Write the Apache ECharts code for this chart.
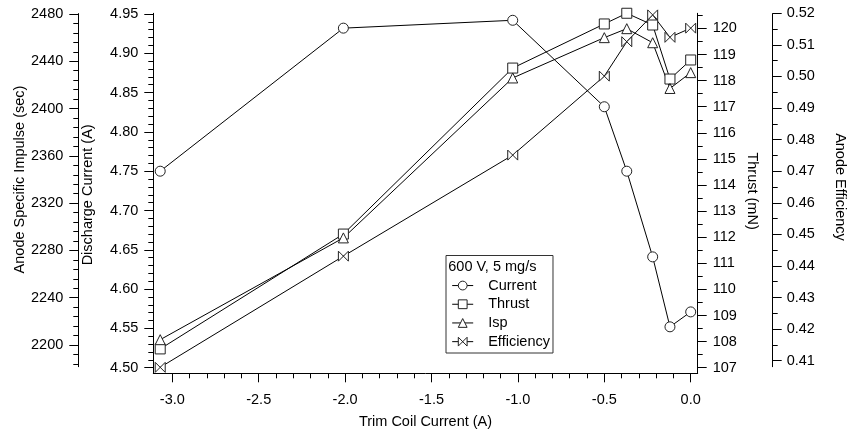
<!DOCTYPE html>
<html><head><meta charset="utf-8">
<script src="https://cdn.jsdelivr.net/npm/echarts@6/dist/echarts.min.js"></script>
<style>html,body{margin:0;padding:0;background:#fff}#c{width:850px;height:431px}</style>
</head><body><div id="c"></div>
<script>
// ---- data ----
const trimCoil   = [-3.07, -2.01, -1.03, -0.50, -0.37, -0.22, -0.12, 0.00];
const current    = [4.750, 4.932, 4.942, 4.832, 4.750, 4.641, 4.552, 4.571];
const thrust     = [107.72, 112.12, 118.48, 120.17, 120.58, 120.13, 118.06, 118.79];
const isp        = [2204.5, 2290.6, 2425.9, 2460.0, 2467.6, 2455.7, 2417.0, 2430.4];
const efficiency = [0.4079, 0.4431, 0.4751, 0.5001, 0.5110, 0.5195, 0.5124, 0.5153];

// ---- tick labels ----
const xTicks       = [-3.0, -2.5, -2.0, -1.5, -1.0, -0.5, 0.0];
const currentTicks = [4.50, 4.55, 4.60, 4.65, 4.70, 4.75, 4.80, 4.85, 4.90, 4.95];
const thrustTicks  = [107, 108, 109, 110, 111, 112, 113, 114, 115, 116, 117, 118, 119, 120];
const ispTicks     = [2200, 2240, 2280, 2320, 2360, 2400, 2440, 2480];
const effTicks     = [0.41, 0.42, 0.43, 0.44, 0.45, 0.46, 0.47, 0.48, 0.49, 0.50, 0.51, 0.52];

const seriesNames = ['Current', 'Thrust', 'Isp', 'Efficiency'];
const legendTitle = '600 V, 5 mg/s';

// ---- layout ----
const W = 850, H = 431;
const FONT = 'Liberation Sans, Arial, sans-serif';
const FS = 14.5;
const BOX = {l: 153.3, r: 697.7, t: 13.3, b: 373.3};
const X_MIN = -3.11, X_MAX = 0.0405;
const xs = (BOX.r - BOX.l) / (X_MAX - X_MIN);
const xPix = v => BOX.l + (v - X_MIN) * xs;
const TICK = 9, MINOR = 5;
const black = '#000';

function grid(top, bottom, left, right) {
  return {left: left, right: W - right, top: top, bottom: H - bottom, containLabel: false, outerBoundsMode: 'none', show: false};
}
function hiddenX(gi) {
  return {type: 'value', gridIndex: gi, min: X_MIN, max: X_MAX, show: false, axisLine: {onZero: false}};
}
const step = a => +(a[1] - a[0]).toFixed(6);

const grids = [
  grid(BOX.t, BOX.b, BOX.l, BOX.r),                                  // 0 box lines
  grid(BOX.t, BOX.b, xPix(xTicks[0]), xPix(xTicks[xTicks.length-1])),// 1 x ticks
  grid(14, 367.7, BOX.l, BOX.r),                                     // 2 current
  grid(28.4, 367.7, BOX.l, BOX.r),                                   // 3 thrust
  grid(14, 345, BOX.l, BOX.r),                                       // 4 isp
  grid(13.3, 360.7, BOX.l, BOX.r),                                   // 5 efficiency
  grid(13.6, 366.7, BOX.l, BOX.r),                                   // 6 outer axis lines
  grid(345, 345 + 16 * (331 / 280), BOX.l, BOX.r),                   // 7 isp extension ticks
  grid(28.4 - 0.5 * (339.3 / 13), 28.4, BOX.l, BOX.r)                // 8 thrust extension tick
];

const lineOnly = {show: true, onZero: false, lineStyle: {color: black, width: 1}};
const noLine = {show: false, onZero: false};
const noTick = {show: false};
const noLabel = {show: false};
const nameStyle = {fontFamily: FONT, fontSize: FS, color: black};
const labelStyle = (fmt, margin) => ({show: true, fontFamily: FONT, fontSize: FS, color: black, margin: margin, formatter: fmt});
const tickStyle = {show: true, length: TICK, lineStyle: {color: black, width: 1}};
const minorStyle = n => ({show: true, splitNumber: n, length: MINOR, lineStyle: {color: black, width: 1}});

const xAxes = [
  {type: 'value', gridIndex: 0, min: X_MIN, max: X_MAX, axisLine: lineOnly, axisTick: noTick, axisLabel: noLabel, splitLine: {show: false},
   name: 'Trim Coil Current (A)', nameLocation: 'middle', nameGap: 41, nameMoveOverlap: false, nameTextStyle: nameStyle},
  {type: 'value', gridIndex: 1, min: xTicks[0], max: xTicks[xTicks.length-1], interval: step(xTicks),
   axisLine: noLine, axisTick: tickStyle, minorTick: minorStyle(5), splitLine: {show: false},
   axisLabel: labelStyle(v => v.toFixed(1), 19)},
  hiddenX(2), hiddenX(3), hiddenX(4), hiddenX(5), hiddenX(6), hiddenX(7), hiddenX(8)
];

const yAxes = [
  // 0,1 box left/right lines
  {type: 'value', gridIndex: 0, position: 'left', min: 0, max: 1, axisLine: lineOnly, axisTick: noTick, axisLabel: noLabel, splitLine: {show: false}},
  {type: 'value', gridIndex: 0, position: 'right', min: 0, max: 1, axisLine: lineOnly, axisTick: noTick, axisLabel: noLabel, splitLine: {show: false}},
  // 2 hidden for x tick grid
  {type: 'value', gridIndex: 1, show: false, min: 0, max: 1, axisLine: {onZero: false}},
  // 3 current
  {type: 'value', gridIndex: 2, position: 'left', min: currentTicks[0], max: currentTicks[currentTicks.length-1], interval: step(currentTicks),
   axisLine: noLine, axisTick: tickStyle, minorTick: minorStyle(5), splitLine: {show: false},
   axisLabel: labelStyle(v => v.toFixed(2), 15),
   name: 'Discharge Current (A)', nameLocation: 'middle', nameGap: 58, nameRotate: 90, nameMoveOverlap: false,
   nameTextStyle: Object.assign({padding: [0, 8, 0, 0]}, nameStyle)},
  // 4 thrust
  {type: 'value', gridIndex: 3, position: 'right', min: thrustTicks[0], max: thrustTicks[thrustTicks.length-1], interval: step(thrustTicks),
   axisLine: noLine, axisTick: tickStyle, minorTick: minorStyle(2), splitLine: {show: false},
   axisLabel: labelStyle(v => String(v), 15),
   name: 'Thrust (mN)', nameLocation: 'middle', nameGap: 47, nameRotate: -90, nameMoveOverlap: false,
   nameTextStyle: Object.assign({padding: [0, 14, 0, 0]}, nameStyle)},
  // 5 isp
  {type: 'value', gridIndex: 4, position: 'left', offset: 75, min: ispTicks[0], max: ispTicks[ispTicks.length-1], interval: step(ispTicks),
   axisLine: noLine, axisTick: tickStyle, minorTick: minorStyle(5), splitLine: {show: false},
   axisLabel: labelStyle(v => String(v), 15),
   name: 'Anode Specific Impulse (sec)', nameLocation: 'middle', nameGap: 51, nameRotate: 90, nameMoveOverlap: false, nameTextStyle: nameStyle},
  // 6 efficiency
  {type: 'value', gridIndex: 5, position: 'right', offset: 75, min: effTicks[0], max: effTicks[effTicks.length-1], interval: step(effTicks),
   axisLine: noLine, axisTick: tickStyle, minorTick: minorStyle(2), splitLine: {show: false},
   axisLabel: labelStyle(v => v.toFixed(2), 14),
   name: 'Anode Efficiency', nameLocation: 'middle', nameGap: 60, nameRotate: -90, nameMoveOverlap: false, nameTextStyle: nameStyle},
  // 7,8 outer axis lines
  {type: 'value', gridIndex: 6, position: 'left', offset: 75, min: 0, max: 1, axisLine: lineOnly, axisTick: noTick, axisLabel: noLabel, splitLine: {show: false}},
  {type: 'value', gridIndex: 6, position: 'right', offset: 75, min: 0, max: 1, axisLine: lineOnly, axisTick: noTick, axisLabel: noLabel, splitLine: {show: false}},
  // 9 isp extension minor ticks
  {type: 'value', gridIndex: 7, position: 'left', offset: 75, min: 2184, max: 2200, interval: 8,
   axisLine: noLine, axisTick: {show: true, length: MINOR, lineStyle: {color: black}}, axisLabel: noLabel, splitLine: {show: false}},
  // 10 thrust extension minor tick
  {type: 'value', gridIndex: 8, position: 'right', min: 120, max: 120.5, interval: 0.5,
   axisLine: noLine, axisTick: {show: true, length: MINOR, lineStyle: {color: black}}, axisLabel: noLabel, splitLine: {show: false}}
];

function mkSeries(name, values, gi, yi, symbol) {
  return {
    type: 'line', name: name, xAxisIndex: gi, yAxisIndex: yi,
    data: trimCoil.map((x, i) => [x, values[i]]),
    symbol: symbol, symbolSize: 10, symbolKeepAspect: true, showSymbol: true, showAllSymbol: true,
    clip: false, animation: false, emphasis: {disabled: true},
    lineStyle: {color: black, width: 1},
    itemStyle: {color: '#fff', borderColor: '#222', borderWidth: 1}
  };
}

const option = {
  animation: false,
  backgroundColor: '#fff',
  textStyle: {fontFamily: FONT},
  title: {text: legendTitle, left: 448.3, top: 259.5, padding: 0,
          textStyle: {fontFamily: FONT, fontSize: FS, fontWeight: 'normal', color: black}},
  legend: {
    data: seriesNames, orient: 'vertical', left: 446, top: 255.5,
    padding: [2 + 18.7, 3, 2, 5.7], itemWidth: 21, itemHeight: 11, itemGap: 0,
    borderColor: '#333', borderWidth: 1, backgroundColor: '#fff',
    selectedMode: false,
    lineStyle: {width: 1, color: black},
    itemStyle: {borderWidth: 1, color: '#fff', borderColor: '#222'},
    textStyle: {fontFamily: FONT, fontSize: FS, color: black, lineHeight: 18.7, padding: [0, 0, 0, 10]}
  },
  grid: grids,
  xAxis: xAxes,
  yAxis: yAxes,
  series: [
    mkSeries(seriesNames[0], current, 2, 3, 'circle'),
    mkSeries(seriesNames[1], thrust, 3, 4, 'rect'),
    mkSeries(seriesNames[2], isp, 4, 5, 'triangle'),
    mkSeries(seriesNames[3], efficiency, 5, 6, 'path://M0,0L10,10L10,0L0,10Z')
  ]
};

const chart = echarts.init(document.getElementById('c'), null, {renderer: 'canvas'});
chart.setOption(option);
</script>
</body></html>
